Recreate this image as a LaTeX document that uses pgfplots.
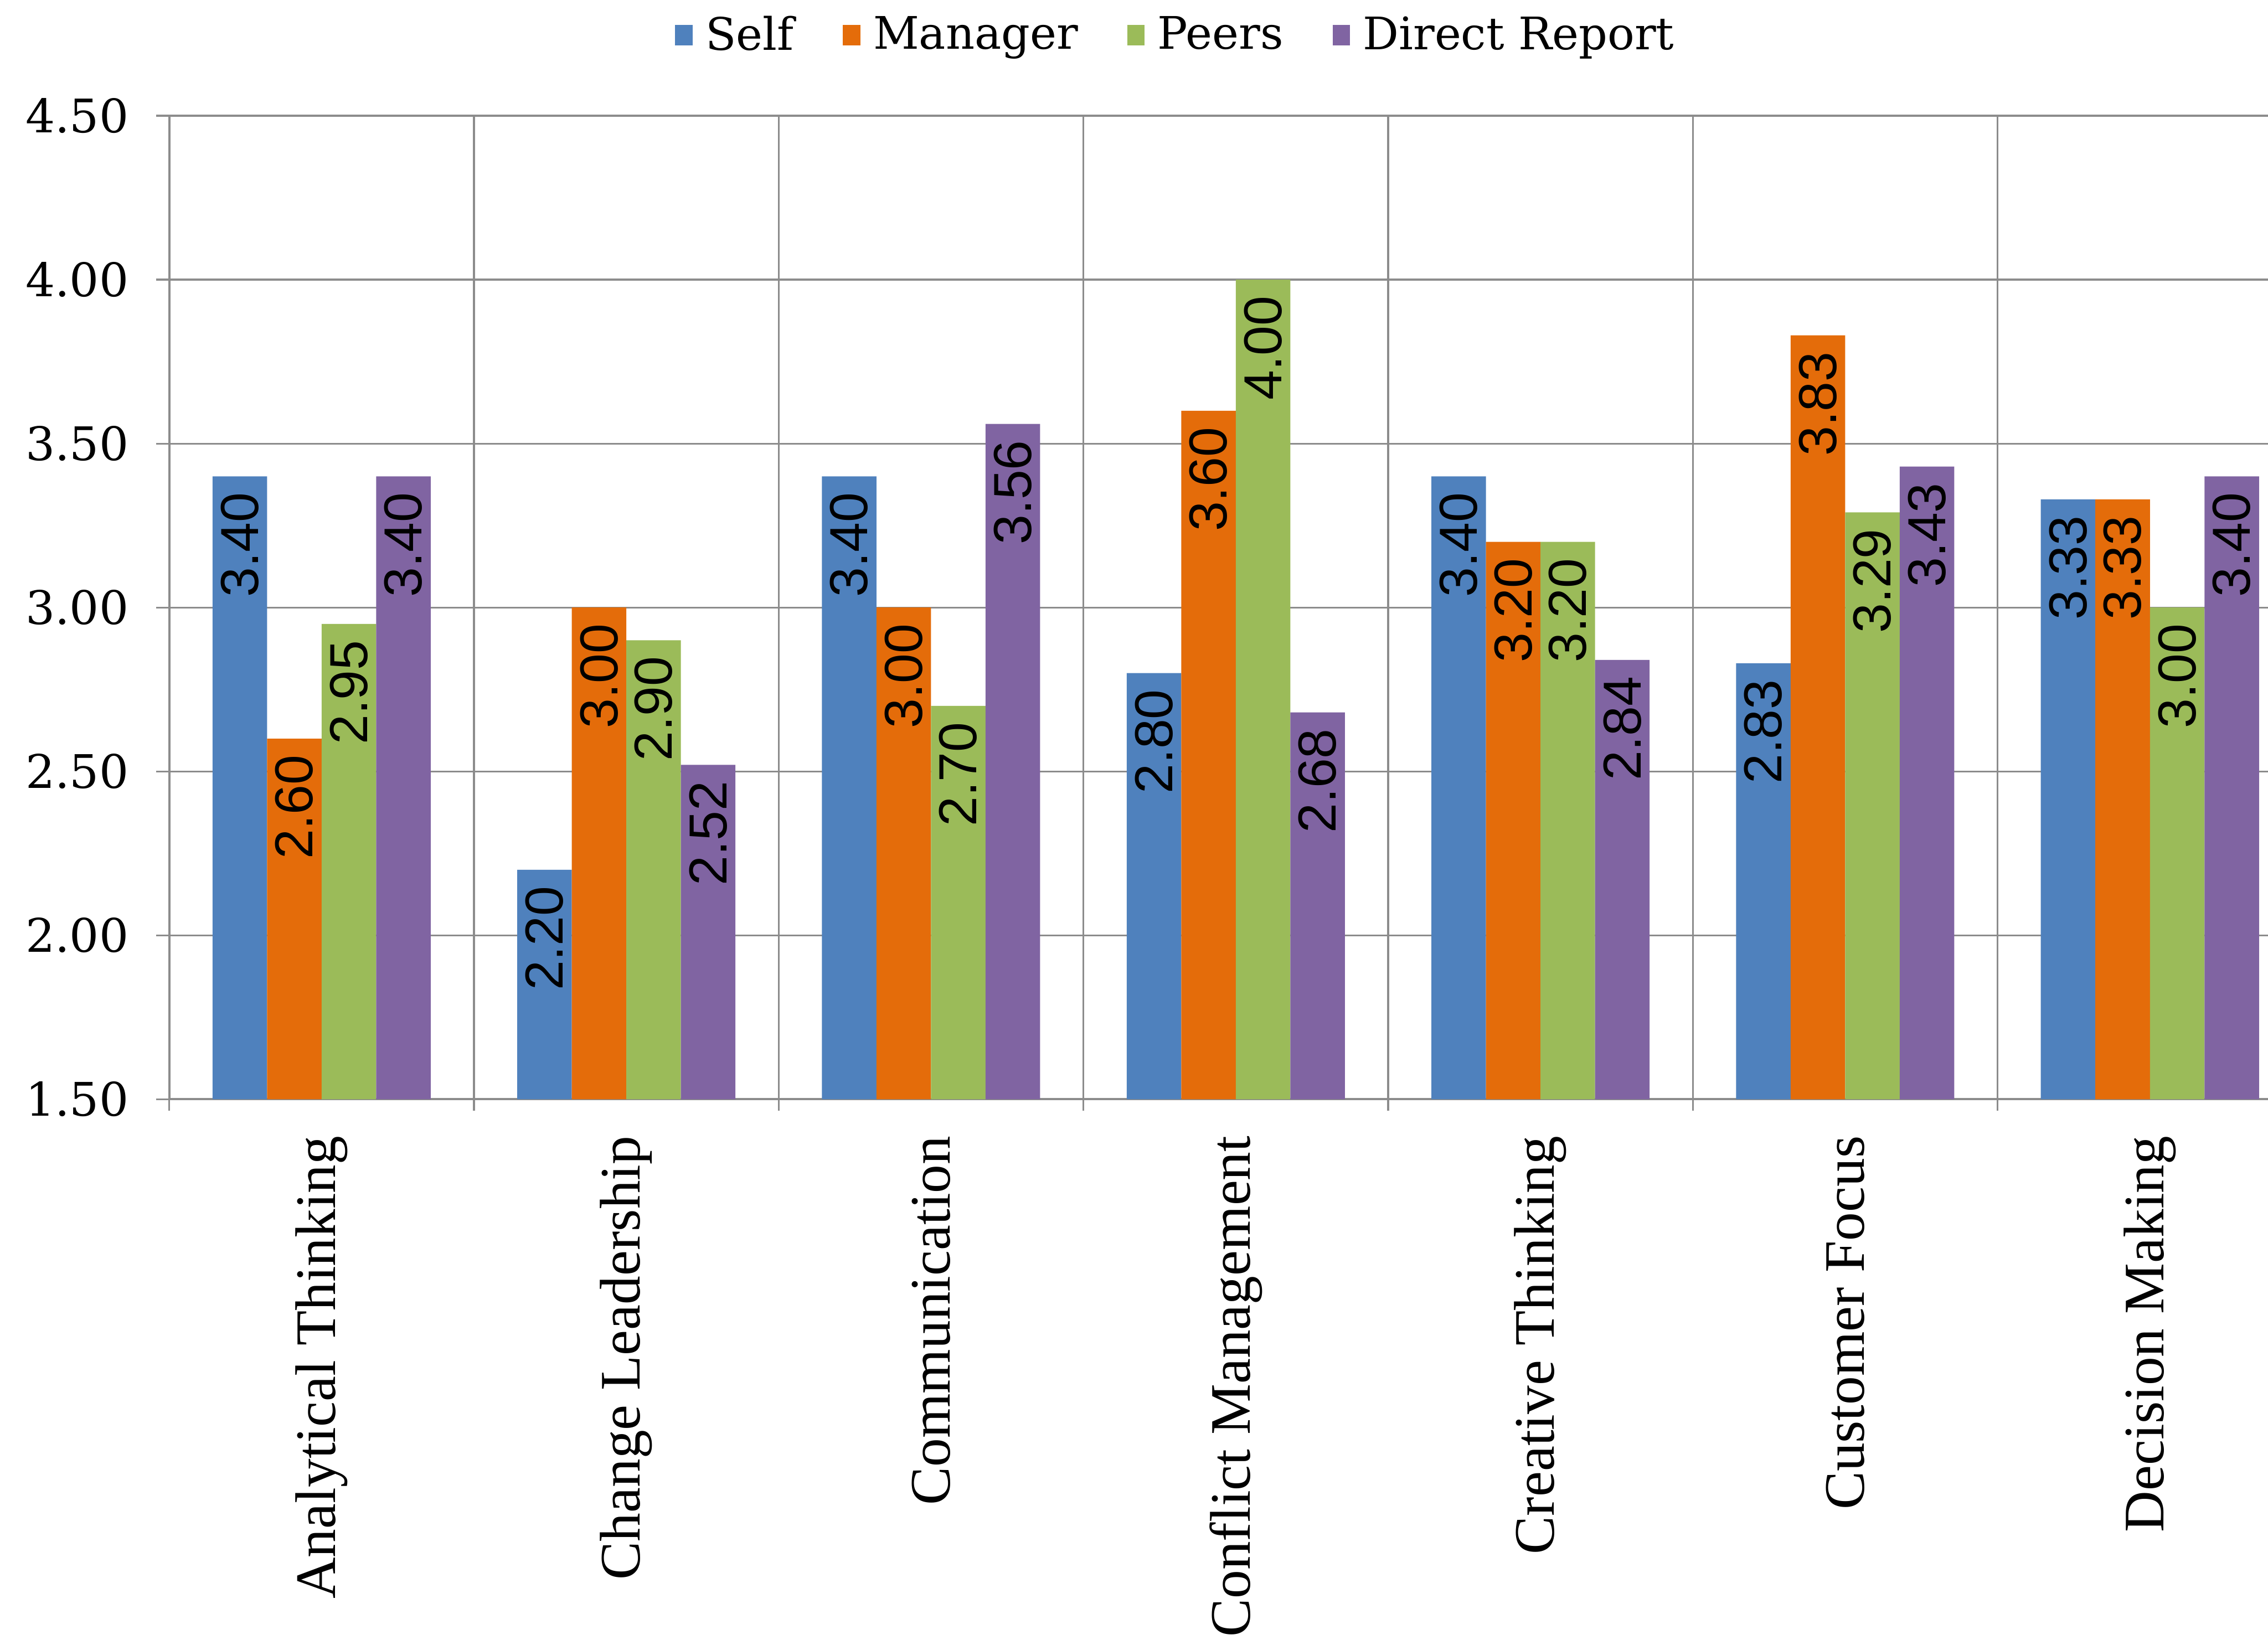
\documentclass[border=0pt]{standalone}
\usepackage{pgfplots}
\pgfplotsset{compat=1.18}
\usepackage{fontspec}
\setmainfont{Liberation Serif}
\newfontfamily\tickfont{DejaVu Serif}
\newfontfamily\labfont{Liberation Sans}
\definecolor{cSelf}{HTML}{4F81BD}
\definecolor{cMgr}{HTML}{E46C0A}
\definecolor{cPeer}{HTML}{9BBB59}
\definecolor{cDR}{HTML}{8064A2}
\definecolor{gridc}{HTML}{8C8C8C}
\begin{document}
\begin{tikzpicture}
\begin{axis}[
  at={(0,0)}, anchor=south west,
  scale only axis, width=725.5pt, height=340pt,
  ybar=0pt, bar width=0.179,
  xmin=-0.5, xmax=6.3876, ymin=1.5, ymax=4.5,
  axis lines=left,
  axis line style={gridc, line width=0.8pt, -},
  xtick={0,1,2,3,4,5,6},
  xticklabels={Analytical Thinking,Change Leadership,Communication,Conflict Management,Creative Thinking,Customer Focus,Decision Making},
  minor xtick={-0.5,0.5,1.5,2.5,3.5,4.5,5.5},
  xminorgrids=true, ymajorgrids=true, xmajorgrids=false,
  grid style={gridc, line width=0.6pt},
  minor grid style={gridc, line width=0.6pt},
  major grid style={gridc, line width=0.6pt},
  ytick={1.5,2,2.5,3,3.5,4,4.5},
  tick align=outside,
  major tick length=4.5pt, minor tick length=4pt,
  major x tick style={draw=none},
  minor x tick style={gridc, line width=0.6pt},
  y tick style={gridc, line width=0.6pt},
  /pgf/number format/assume math mode=true,
  yticklabel style={font=\tickfont\fontsize{16}{18}\selectfont, xshift=-6pt,
    /pgf/number format/fixed, /pgf/number format/fixed zerofill, /pgf/number format/precision=2},
  xticklabel style={font=\fontsize{19.8}{22}\selectfont, rotate=90, anchor=east, inner xsep=8pt},
  nodes near coords={\pgfmathprintnumber[fixed,fixed zerofill,precision=2]{\pgfplotspointmeta}},
  every node near coord/.append style={font=\labfont\fontsize{18.5}{20}\selectfont, rotate=90, anchor=east, inner xsep=5.5pt, inner ysep=0pt, text=black},
  legend columns=4,
  legend style={at={(0.479,1.082)}, anchor=center, draw=none, fill=none,
    font=\tickfont\fontsize{15.5}{18}\selectfont,
    nodes={inner xsep=0pt},
    /tikz/every odd column/.append style={column sep=4.5pt},
    /tikz/every even column/.append style={column sep=17pt}},
  legend image code/.code={\fill[#1] (0pt,-3.5pt) rectangle (6pt,3.5pt);},
]
\addplot[fill=cSelf, draw=none] coordinates {(0,3.40) (1,2.20) (2,3.40) (3,2.80) (4,3.40) (5,2.83) (6,3.33)};
\addplot[fill=cMgr, draw=none] coordinates {(0,2.60) (1,3.00) (2,3.00) (3,3.60) (4,3.20) (5,3.83) (6,3.33)};
\addplot[fill=cPeer, draw=none] coordinates {(0,2.95) (1,2.90) (2,2.70) (3,4.00) (4,3.20) (5,3.29) (6,3.00)};
\addplot[fill=cDR, draw=none] coordinates {(0,3.40) (1,2.52) (2,3.56) (3,2.68) (4,2.84) (5,3.43) (6,3.40)};
\legend{Self,Manager,Peers,Direct Report}
\end{axis}
\pgfresetboundingbox
\path[use as bounding box] (-58.5pt,-188.5pt) rectangle (725.5pt,380pt);
\end{tikzpicture}
\end{document}
